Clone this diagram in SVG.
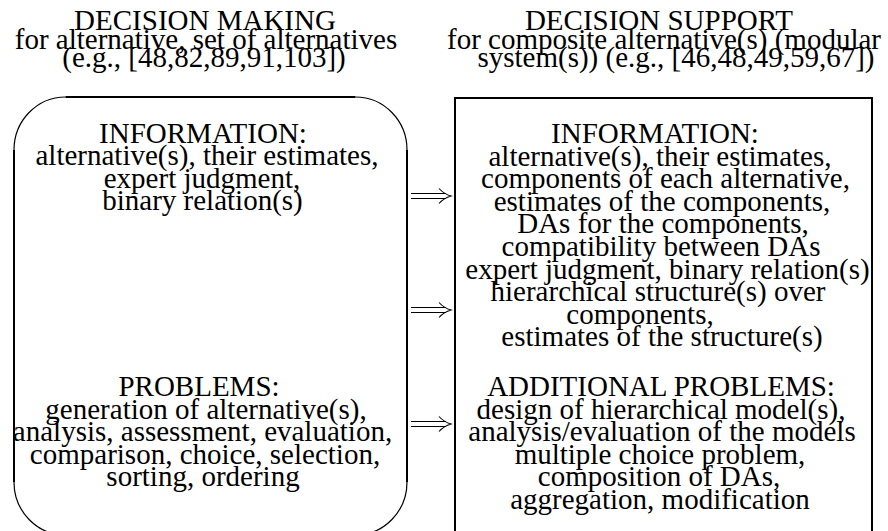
<svg xmlns="http://www.w3.org/2000/svg" width="888" height="531" viewBox="0 0 888 531">
<style>
.box{fill:none;stroke:#000;stroke-width:2}
.arc{fill:none;stroke:#000;stroke-width:1.2}
.arr{fill:none;stroke:#000;stroke-width:1.1}
</style>
<rect width="888" height="531" fill="#fff"/>
<g id="header-left" font-family="Liberation Serif" font-size="29" text-anchor="middle">
<text x="205" y="30">DECISION MAKING</text>
<text x="206" y="48.5">for alternative, set of alternatives</text>
<text x="204" y="67">(e.g., [48,82,89,91,103])</text>
</g>
<g id="header-right" font-family="Liberation Serif" font-size="29" text-anchor="middle">
<text x="659" y="30">DECISION SUPPORT</text>
<text x="664" y="48.5">for composite alternative(s) (modular</text>
<text x="676" y="67">system(s)) (e.g., [46,48,49,59,67])</text>
</g>
<g id="decision-making" font-family="Liberation Serif" font-size="29" text-anchor="middle">
<path class="box" d="M65.5 97 H355.5 M407 150 V482 M14 150 V482"/>
<path class="arc" d="M14 150 A51.5 53 0 0 1 65.5 97 M355.5 97 A51.5 53 0 0 1 407 150 M407 482 A51.5 53 0 0 1 355.5 535 M65.5 535 A51.5 53 0 0 1 14 482"/>
<text x="203" y="142.5">INFORMATION:</text>
<text x="207" y="165">alternative(s), their estimates,</text>
<text x="202" y="187.5">expert judgment,</text>
<text x="202.5" y="210">binary relation(s)</text>
<text x="199" y="396">PROBLEMS:</text>
<text x="206" y="418.5">generation of alternative(s),</text>
<text x="202.5" y="441">analysis, assessment, evaluation,</text>
<text x="205" y="463.5">comparison, choice, selection,</text>
<text x="203" y="486">sorting, ordering</text>
</g>
<g id="decision-support" font-family="Liberation Serif" font-size="29" text-anchor="middle">
<rect class="box" x="455" y="98" width="417" height="445"/>
<text x="655" y="143">INFORMATION:</text>
<text x="660" y="165.6">alternative(s), their estimates,</text>
<text x="665.5" y="188.2">components of each alternative,</text>
<text x="662" y="210.8">estimates of the components,</text>
<text x="663" y="233.4">DAs for the components,</text>
<text x="661" y="256">compatibility between DAs</text>
<text x="667.5" y="278.6">expert judgment, binary relation(s)</text>
<text x="658" y="301.2">hierarchical structure(s) over</text>
<text x="640" y="323.8">components,</text>
<text x="662" y="346.4">estimates of the structure(s)</text>
<text x="661" y="396">ADDITIONAL PROBLEMS:</text>
<text x="661" y="418.5">design of hierarchical model(s),</text>
<text x="662" y="441">analysis/evaluation of the models</text>
<text x="660" y="463.5">multiple choice problem,</text>
<text x="659" y="486">composition of DAs,</text>
<text x="660" y="508.5">aggregation, modification</text>
</g>
<g id="connectors">
<path class="arr" d="M411 193.5 H446 M411 198.5 H446 M439 188.5 Q444 194 451 196 Q444 198 439 203.5"/>
<path class="arr" d="M411 307.5 H446 M411 312.5 H446 M439 302.5 Q444 308 451 310 Q444 312 439 317.5"/>
<path class="arr" d="M411 421.5 H446 M411 426.5 H446 M439 416.5 Q444 422 451 424 Q444 426 439 431.5"/>
</g>
</svg>
